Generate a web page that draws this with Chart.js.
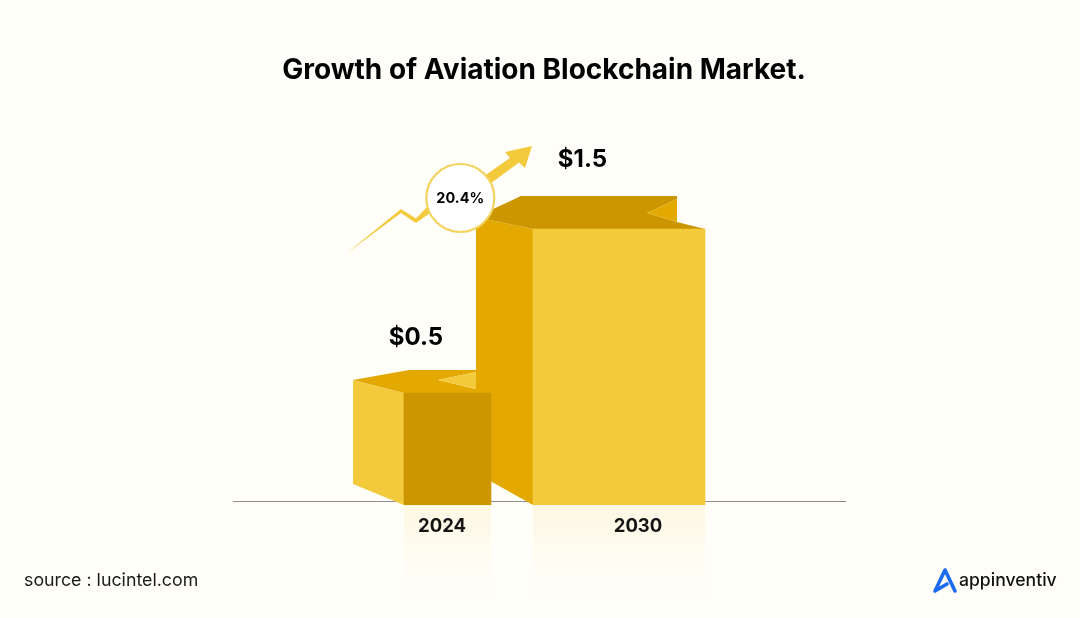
<!DOCTYPE html>
<html>
<head>
<meta charset="utf-8">
<style>
html,body{margin:0;padding:0;background:#FFFEF9;}
#wrap{position:relative;width:1080px;height:618px;overflow:hidden;}
canvas{display:block;}
</style>
<script src="https://cdn.jsdelivr.net/npm/chart.js@4"></script>
</head>
<body>
<div id="wrap"><canvas id="c" width="1080" height="618"></canvas></div>
<script>
const categories = ['2024', '2030'];
const marketValues = [0.5, 1.5];
const titleText = 'Growth of Aviation Blockchain Market.';
const growthLabel = '20.4%';
const sourceText = 'source : lucintel.com';
const brandText = 'appinventiv';

const C = {bg:'#FFFEF9', light:'#F4CA3D', mid:'#E3A900', dark:'#CC9600', ink:'#000000', axis:'#8E8E8E', blue:'#1B6CF2'};
const FONT = 'Inter, "Noto Sans", sans-serif';

const faceStyle = [
  {dx:5.5, w:87, front:C.dark,
   side:{fill:C.light, pts:[[-51,-13,0],[0,0,0],[0,0,1],[-51,-21,1]]},
   top:{fill:C.mid, pts:[[-51,-13],[5,-23],[72,-23],[72,-21],[34,-13],[72,-4],[87,0],[0,0]]},
   notch:{fill:C.light, pts:[[72,-21],[34,-13],[72,-4]]},
   label:{dx:-31.5, dy:-55.5}},
  {dx:-19, w:172, front:C.light,
   side:{fill:C.mid, pts:[[-57,-12,0],[0,0,0],[0,0,1],[-57,-32,1]]},
   top:{fill:C.dark, pts:[[-57,-12],[-12,-33],[144,-33],[144,-30],[114,-16],[144,-7],[172,0],[0,0]]},
   notch:{fill:C.mid, pts:[[144,-30],[114,-16],[144,-7]]},
   label:{dx:-36.5, dy:-69.5}}
];

const arrowOutline = [[-186,24],[-132,-20],[-117,-10.5],[-105,-23],[-73,-31],[-46,-55],[-23,-71],[-28,-77],[-1,-83],[-8,-61],[-14,-66.5],[-39,-48],[-73,-24],[-103,-16],[-117,-6],[-132,-16]];

function poly(ctx, pts, fill){
  ctx.beginPath();
  pts.forEach((p,i)=> i ? ctx.lineTo(p[0],p[1]) : ctx.moveTo(p[0],p[1]));
  ctx.closePath();
  ctx.fillStyle = fill;
  ctx.fill();
}

const cubePlugin = {
  id:'cube',
  afterLayout(chart){
    chart.titleBlock.left = 0;
    chart.titleBlock.right = chart.width + 8;
  },
  afterDatasetsUpdate(chart){
    chart.getDatasetMeta(0).data.forEach((el,i)=>{
      el.x += faceStyle[i].dx;
      el.width = faceStyle[i].w;
    });
  },
  beforeDraw(chart){
    const ctx = chart.ctx;
    const {width,height} = chart;
    ctx.save();
    ctx.fillStyle = C.bg;
    ctx.fillRect(0,0,width,height);
    chart.getDatasetMeta(0).data.forEach((el)=>{
      const g = ctx.createLinearGradient(0,el.base,0,el.base+100);
      g.addColorStop(0,'rgba(244,202,61,0.12)');
      g.addColorStop(0.45,'rgba(244,202,61,0.045)');
      g.addColorStop(1,'rgba(244,202,61,0)');
      ctx.fillStyle = g;
      ctx.fillRect(el.x-el.width/2,el.base,el.width,100);
    });
    ctx.restore();
  },
  beforeDatasetsDraw(chart){
    const ctx = chart.ctx;
    const meta = chart.getDatasetMeta(0).data;
    const base = meta[0].base;
    ctx.save();
    ctx.strokeStyle = C.axis;
    ctx.lineWidth = 1;
    ctx.beginPath();
    ctx.moveTo(233,Math.round(base)-3.5);
    ctx.lineTo(846,Math.round(base)-3.5);
    ctx.stroke();
    [1,0].forEach(i=>{
      const el = meta[i], s = faceStyle[i];
      const L = el.x-el.width/2, T = el.y, B = el.base;
      poly(ctx, s.side.pts.map(p=>[L+p[0],(p[2]?B:T)+p[1]]), s.side.fill);
      poly(ctx, s.top.pts.map(p=>[L+p[0],T+p[1]]), s.top.fill);
      poly(ctx, s.notch.pts.map(p=>[L+p[0],T+p[1]]), s.notch.fill);
    });
    ctx.restore();
  },
  afterDatasetsDraw(chart){
    const ctx = chart.ctx;
    const meta = chart.getDatasetMeta(0).data;
    const el = meta[1];
    const L = el.x-el.width/2, T = el.y;
    ctx.save();
    // growth arrow
    poly(ctx, arrowOutline.map(p=>[L+p[0],T+p[1]]), C.light);
    // growth circle
    const cx=L-72.7, cy=T-31;
    ctx.beginPath();
    ctx.arc(cx,cy,34,0,Math.PI*2);
    ctx.fillStyle='#FFFFFF';
    ctx.fill();
    ctx.lineWidth=2.2;
    ctx.strokeStyle='#F3D25E';
    ctx.stroke();
    ctx.fillStyle=C.ink;
    ctx.textAlign='center';
    ctx.textBaseline='middle';
    ctx.font='700 14.5px '+FONT;
    ctx.fillText(growthLabel,cx,cy+0.5);
    // value labels
    ctx.font='700 24px '+FONT;
    meta.forEach((m,i)=>{
      const s=faceStyle[i];
      ctx.fillText('$'+marketValues[i].toFixed(1),m.x+s.label.dx,m.y+s.label.dy);
    });
    // footer
    ctx.textAlign='left';
    ctx.font='400 17.8px '+FONT;
    ctx.fillStyle='#1A1A1A';
    ctx.fillText(sourceText,24,581);
    ctx.font='500 17.6px '+FONT;
    ctx.fillStyle='#111111';
    ctx.fillText(brandText,959,581);
    ctx.beginPath();
    ctx.moveTo(935,591);
    ctx.lineTo(945,570);
    ctx.lineTo(955,591);
    ctx.moveTo(935,591);
    ctx.lineTo(947,584);
    ctx.strokeStyle=C.blue;
    ctx.lineWidth=3.6;
    ctx.lineJoin='round';
    ctx.lineCap='round';
    ctx.stroke();
    ctx.restore();
  }
};

const unit = 164;
const yMin = 0.5 - 112/unit;
const yMax = yMin + 400/unit;

new Chart(document.getElementById('c'), {
  type:'bar',
  plugins:[cubePlugin],
  data:{
    labels:categories,
    datasets:[{
      label:'Aviation blockchain market',
      data:marketValues,
      base:yMin,
      backgroundColor:faceStyle.map(s=>s.front),
      borderWidth:0,
      categoryPercentage:1,
      barPercentage:1
    }]
  },
  options:{
    responsive:false,
    devicePixelRatio:1,
    animation:false,
    layout:{padding:{left:344,right:344,top:0,bottom:73}},
    plugins:{
      legend:{display:false},
      tooltip:{enabled:false},
      title:{
        display:true,
        text:titleText,
        color:C.ink,
        font:{family:FONT,size:28,weight:'700',lineHeight:1.2},
        padding:{top:54,bottom:17.4}
      }
    },
    scales:{
      x:{
        type:'category',
        grid:{display:false},
        border:{display:false},
        afterFit(s){s.height=40;},
        ticks:{color:'#141414',padding:2,maxRotation:0,autoSkip:false,font:{family:FONT,size:18.5,weight:'700'}}
      },
      y:{display:false,min:yMin,max:yMax}
    }
  }
});
</script>
</body>
</html>
